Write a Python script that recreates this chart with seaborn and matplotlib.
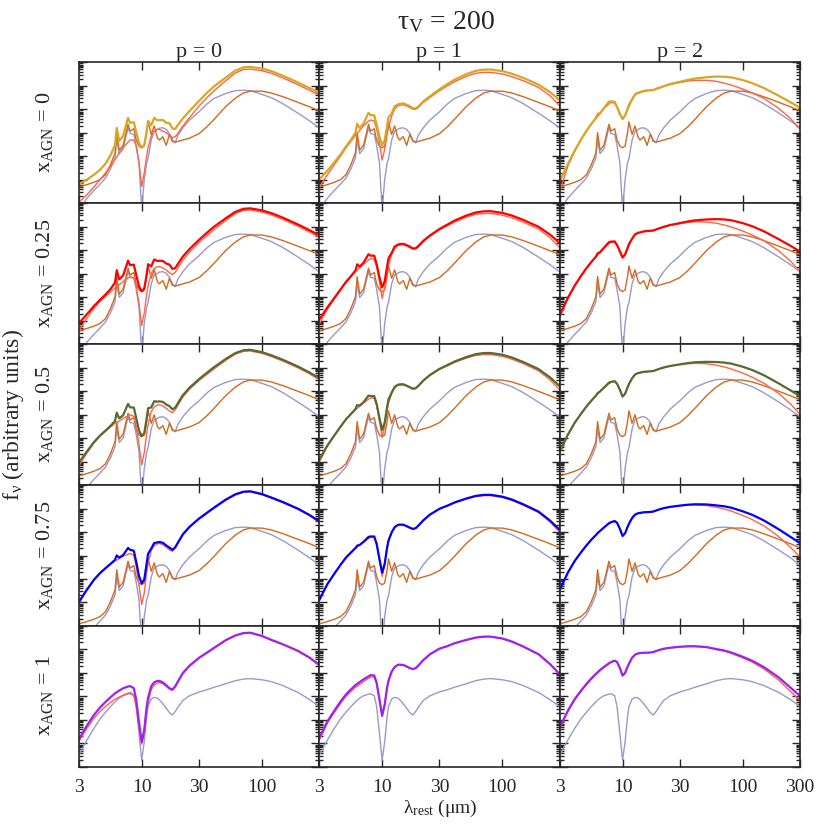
import numpy as np
import pandas as pd
import seaborn as sns
import matplotlib.pyplot as plt
from matplotlib.ticker import LogLocator, NullFormatter, NullLocator, FixedLocator

# wavelength grid (micron) at which the curves were read
wave = [3, 3.5, 4, 4.5, 5, 5.5, 6, 6.2, 6.5, 7, 7.7, 8, 8.6, 9, 9.5, 10, 10.5, 11, 11.3,
        12, 12.7, 13.5, 14, 15, 16, 17, 18, 19, 20, 22, 25, 30, 35, 40, 50, 60, 70,
        80, 100, 120, 150, 200, 250, 300]

# log10 f_nu (arbitrary units), as read from the x_AGN = 0 row
sb_orange = [-5.31, -5.21, -5.11, -5.00, -4.79, -4.36, -3.86, -3.00, -3.74, -3.54, -2.64,
             -2.93, -2.83, -3.31, -3.57, -3.64, -3.57, -3.00, -2.54, -3.07, -2.71, -3.21,
             -3.31, -3.17, -3.54, -3.07, -3.37, -3.40, -3.37, -3.31, -3.23, -3.04, -2.74,
             -2.43, -1.89, -1.53, -1.31, -1.23, -1.23, -1.31, -1.47, -1.71, -1.90, -2.07]
sb_lav = [-6.29, -5.79, -5.46, -5.19, -4.93, -4.54, -4.07, -3.30, -3.89, -3.69, -2.79,
          -3.03, -3.07, -3.54, -4.29, -6.29, -5.00, -4.29, -4.11, -3.31, -2.93, -2.86,
          -2.81, -2.79, -2.86, -3.03, -3.31, -3.43, -3.11, -2.79, -2.46, -2.11, -1.77,
          -1.54, -1.33, -1.21, -1.19, -1.21, -1.37, -1.51, -1.77, -2.17, -2.50, -2.80]
# lavender curve of the x_AGN = 1 row
agn_lav = [-5.50, -4.86, -4.36, -3.96, -3.67, -3.43, -3.23, -3.16, -3.07, -2.97, -2.90,
           -2.89, -2.97, -3.43, -4.57, -5.71, -4.93, -3.86, -3.43, -3.11, -3.04, -3.07,
           -3.14, -3.31, -3.50, -3.69, -3.79, -3.64, -3.46, -3.17, -2.97, -2.81, -2.71,
           -2.61, -2.46, -2.33, -2.26, -2.24, -2.29, -2.37, -2.54, -2.83, -3.14, -3.43]

# red model curves, x_AGN = 0
red_p0_x0 = [-5.97, -5.64, -5.31, -5.00, -4.71, -4.43, -4.14, -4.04, -3.86, -3.64, -3.40,
             -3.31, -3.31, -3.57, -4.29, -5.29, -4.71, -4.00, -3.64, -3.14, -2.93, -2.86,
             -2.86, -2.93, -3.00, -3.11, -3.21, -3.17, -3.03, -2.71, -2.36, -1.86, -1.50,
             -1.21, -0.79, -0.46, -0.31, -0.29, -0.36, -0.47, -0.67, -0.96, -1.20, -1.40]
red_p1_x0 = [-5.31, -4.79, -4.36, -4.00, -3.64, -3.37, -3.11, -3.03, -2.90, -2.71, -2.51,
             -2.46, -2.50, -2.83, -3.43, -4.17, -3.71, -3.07, -2.79, -2.29, -2.00, -1.86,
             -1.83, -1.81, -1.86, -1.93, -2.00, -2.00, -1.93, -1.71, -1.50, -1.21, -1.00,
             -0.83, -0.60, -0.47, -0.43, -0.43, -0.50, -0.61, -0.79, -1.07, -1.43, -1.86]
red_p2_x0 = [-5.50, -4.43, -3.79, -3.31, -2.93, -2.64, -2.40, -2.31, -2.19, -1.97, -1.77,
             -1.71, -1.74, -1.93, -2.21, -2.43, -2.29, -2.03, -1.89, -1.60, -1.40, -1.31,
             -1.29, -1.24, -1.21, -1.20, -1.19, -1.14, -1.10, -1.03, -0.94, -0.86, -0.80,
             -0.77, -0.77, -0.81, -0.89, -0.97, -1.14, -1.31, -1.54, -1.97, -2.40, -2.86]
# red model curves, x_AGN = 1
red_p0_x1 = [-4.93, -4.36, -3.93, -3.64, -3.43, -3.26, -3.11, -3.09, -3.03, -2.94, -2.86,
             -2.83, -2.93, -3.43, -4.29, -5.03, -4.57, -3.64, -3.29, -2.71, -2.51, -2.43,
             -2.41, -2.46, -2.57, -2.69, -2.74, -2.60, -2.40, -2.03, -1.71, -1.37, -1.14,
             -0.94, -0.61, -0.41, -0.31, -0.29, -0.43, -0.60, -0.79, -1.07, -1.36, -1.67]
red_p1_x1 = [-4.86, -4.14, -3.69, -3.31, -3.00, -2.79, -2.61, -2.57, -2.49, -2.37, -2.23,
             -2.17, -2.17, -2.46, -3.14, -3.83, -3.36, -2.64, -2.36, -1.97, -1.77, -1.67,
             -1.66, -1.67, -1.73, -1.80, -1.84, -1.80, -1.69, -1.46, -1.21, -0.97, -0.86,
             -0.74, -0.60, -0.50, -0.46, -0.46, -0.54, -0.67, -0.89, -1.21, -1.64, -2.07]
red_p2_x1 = [-4.36, -3.64, -3.14, -2.79, -2.50, -2.26, -2.07, -2.00, -1.90, -1.77, -1.61,
             -1.56, -1.49, -1.54, -1.79, -2.11, -2.00, -1.74, -1.61, -1.36, -1.23, -1.17,
             -1.16, -1.14, -1.14, -1.13, -1.11, -1.07, -1.03, -0.97, -0.93, -0.89, -0.87,
             -0.87, -0.91, -1.00, -1.07, -1.16, -1.36, -1.54, -1.83, -2.31, -2.79, -3.17]

x_agn = [0, 0.25, 0.5, 0.75, 1]
x_labels = ["0", "0.25", "0.5", "0.75", "1"]
p_values = [0, 1, 2]
total_colors = ["#DAA520", "#FF0000", "#556B2F", "#0000FF", "#A020F0"]

red_x0 = [red_p0_x0, red_p1_x0, red_p2_x0]
red_x1 = [red_p0_x1, red_p1_x1, red_p2_x1]


def lin(a):
    return 10 ** np.array(a)


sns.set_style("ticks")
plt.rcParams["font.family"] = ["Liberation Serif", "DejaVu Serif"]
plt.rcParams["mathtext.fontset"] = "custom"
plt.rcParams["mathtext.rm"] = "Liberation Serif"
plt.rcParams["mathtext.it"] = "Liberation Serif:italic"

fig, axes = plt.subplots(5, 3, figsize=(8.3, 8.3), dpi=100)
fig.subplots_adjust(left=0.095, right=0.964, top=0.925, bottom=0.076, wspace=0, hspace=0)

for i, x in enumerate(x_agn):
    for j, p in enumerate(p_values):
        ax = axes[i, j]
        # red model: AGN fraction x of the x_AGN = 1 curve, rest from the x_AGN = 0 curve
        red = (1 - x) * lin(red_x0[j]) + x * lin(red_x1[j])
        if x < 1:
            lav = (1 - x) * lin(sb_lav)
            orange = (1 - x) * lin(sb_orange)
            total = red + lav + orange
        else:
            lav = lin(agn_lav)
            orange = None
            total = red + lav
        sns.lineplot(x=wave, y=lav, ax=ax, color="#9999CC", lw=1.0, estimator=None, sort=False)
        if orange is not None:
            sns.lineplot(x=wave, y=orange, ax=ax, color="#D2691E", lw=1.0, estimator=None, sort=False)
        sns.lineplot(x=wave, y=red, ax=ax, color="#FF6347", lw=1.0, estimator=None, sort=False)
        sns.lineplot(x=wave, y=total, ax=ax, color=total_colors[i], lw=1.6, estimator=None, sort=False)

        ax.set_xscale("log")
        ax.set_yscale("log")
        ax.set_xlim(3, 300)
        ax.set_ylim(1e-6, 1)
        ax.set_xlabel("")
        ax.set_ylabel("")
        ticks = [3, 10, 30, 100, 300] if j == 2 else [3, 10, 30, 100]
        ax.xaxis.set_major_locator(FixedLocator(ticks))
        ax.xaxis.set_minor_locator(NullLocator())
        if i == 4:
            ax.set_xticklabels([str(t) for t in ticks])
        else:
            ax.set_xticklabels([])
        ax.yaxis.set_major_locator(LogLocator(base=10, numticks=10))
        ax.yaxis.set_minor_locator(LogLocator(base=10, subs=np.arange(2, 10), numticks=10))
        ax.yaxis.set_major_formatter(NullFormatter())
        ax.yaxis.set_minor_formatter(NullFormatter())
        ax.tick_params(which="both", direction="in", top=True, right=True,
                       labelsize=14, width=1.0)
        ax.tick_params(which="major", length=6, pad=9)
        ax.tick_params(which="minor", length=3)
        for s in ax.spines.values():
            s.set_linewidth(1.2)
        if i == 0:
            ax.set_title(f"p = {p}", fontsize=16, pad=4)

    y_center = 1 - (62 + 141 * i + 70) / 830
    fig.text(0.054, y_center, r"x$_\mathrm{AGN}$ = " + x_labels[i], rotation=90,
             ha="center", va="center", fontsize=16)

fig.text(0.538, 0.973, r"τ$_\mathrm{V}$ = 200", ha="center", va="center", fontsize=20)
fig.text(0.016, 0.5, r"f$_\mathrm{ν}$ (arbitrary units)", rotation=90,
         ha="center", va="center", fontsize=17)
fig.text(0.53, 0.026, r"λ$_\mathrm{rest}$ (μm)", ha="center", va="center", fontsize=14)

fig.savefig("out.png", dpi=100)
